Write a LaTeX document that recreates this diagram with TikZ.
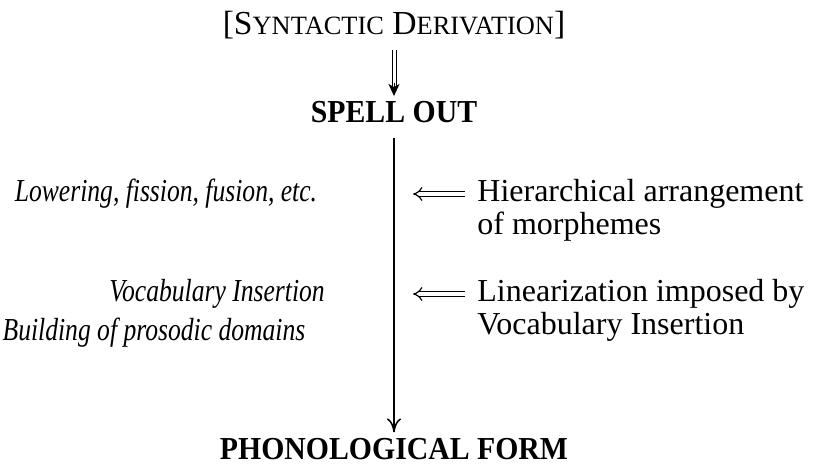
\documentclass[tikz,border=0pt]{standalone}
\usepackage{fontspec}
\setmainfont{Liberation Serif}
\newfontfamily\opfont[FakeStretch=0.8]{Liberation Serif Italic}
\newfontfamily\phasefont[FakeStretch=0.93]{Liberation Serif Bold}
\usetikzlibrary{arrows.meta,calc}
% small capitals built from reduced upper-case letters
\newcommand\smallcapsrun[1]{{\fontsize{13.2}{14}\selectfont #1}}
\begin{document}
\begin{tikzpicture}[x=0.5pt,y=-0.5pt,
  plain/.style={font=\fontsize{16}{16.5}\selectfont, inner sep=0pt},
  phase/.style={font=\phasefont\fontsize{16}{18}\selectfont, inner sep=0pt, anchor=base},
  operation/.style={font=\opfont\fontsize{16}{18}\selectfont, inner sep=0pt, anchor=base},
  note/.style={plain, align=left, anchor=base west},
  derive/.style={line width=0.75pt, -{To[length=7pt,width=7pt]}},
  shaft/.style={double, double distance=1.5pt, line width=0.5pt},
  feed/.style={double, double distance=1.8pt, line width=0.6pt, -{Implies[scale=1.3]}},
  headtip/.style={line width=0.5pt, -{Stealth[length=6pt,width=5.5pt,inset=1.5pt]}}
]
\useasboundingbox (0,0) rectangle (820,464);

% derivation stages
\node[plain, font=\fontsize{16.8}{18}\selectfont, anchor=base] (syn) at (394,35) {[S\smallcapsrun{YNTACTIC} D\smallcapsrun{ERIVATION}]};
\node[phase] (so) at (394,123) {SPELL OUT};
\node[phase] (pf) at (394,460) {PHONOLOGICAL FORM};

% syntax feeds spell-out
\coordinate (sotip) at (394,96);
\draw[shaft, shorten <=5pt] (syn.south) -- ($(sotip)+(0,-8)$);
\draw[headtip] ($(sotip)+(0,-13)$) -- (sotip);

% post-syntactic derivation
\draw[derive, shorten <=7pt, shorten >=3pt] (so.south) -- (pf.north);

% post-syntactic operations
\node[operation] (low) at (166,202) {Lowering, fission, fusion, etc.};
\node[operation] (vi) at (217,302) {Vocabulary Insertion};
\node[operation] (pros) at (154,341) {Building of prosodic domains};

% what each step imposes (anchored at the baseline of the last line)
\node[note] (hier) at (477,235) {Hierarchical arrangement\\of morphemes};
\node[note] (lin) at (477,335) {Linearization imposed by\\Vocabulary Insertion};

\coordinate (hiertip) at (413,194);
\coordinate (lintip) at (413,294);
\draw[feed, shorten <=6pt] (hiertip -| hier.west) -- (hiertip);
\draw[feed, shorten <=6pt] (lintip -| lin.west) -- (lintip);
\end{tikzpicture}
\end{document}
